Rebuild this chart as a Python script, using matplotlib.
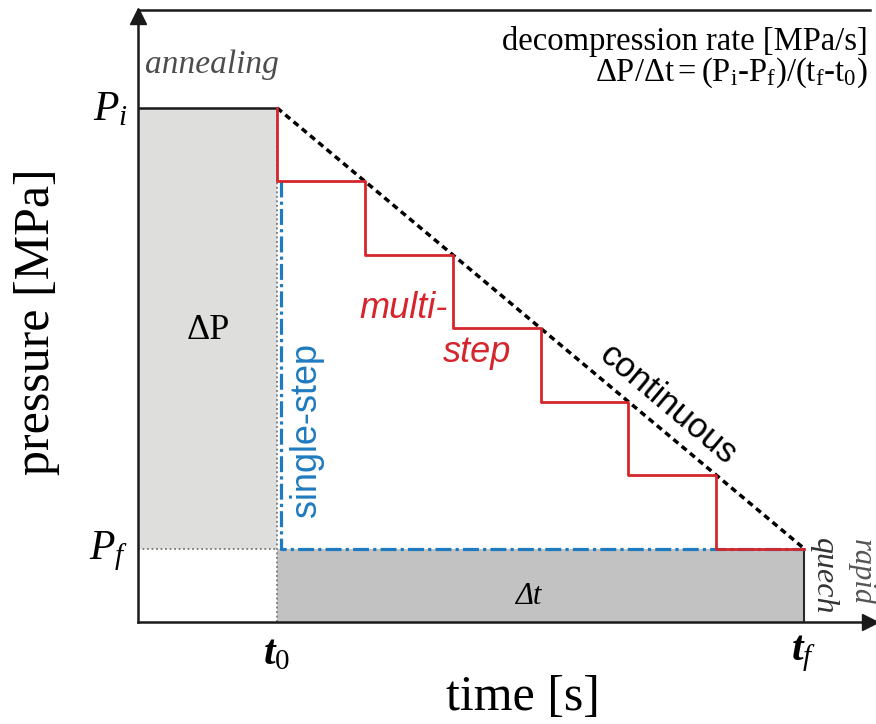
import numpy as np
import matplotlib
matplotlib.use('Agg')
import matplotlib.pyplot as plt
from matplotlib.patches import Rectangle

plt.rcParams['mathtext.fontset'] = 'custom'
plt.rcParams['mathtext.rm'] = 'Liberation Serif'
plt.rcParams['mathtext.it'] = 'Liberation Serif:italic'
plt.rcParams['mathtext.bf'] = 'Liberation Serif:bold:italic'

# schematic values (arbitrary units)
t0, tf = 1.9, 9.1
p_i, p_f = 8.4, 1.2
step_t = [1.9, 3.1, 4.3, 5.5, 6.7, 7.9, 9.1]
step_p = [8.4, 7.2, 6.0, 4.8, 3.6, 2.4, 1.2]

SERIF = 'Liberation Serif'
SANS = 'Liberation Sans'
RED = '#d4262c'
BLUE = '#1f7bbf'

fig = plt.figure(figsize=(8.76, 7.24), dpi=100)
ax = fig.add_axes([138/876, 102/724, 732/876, 612/724])
ax.set_xlim(0, 10)
ax.set_ylim(0, 10)
ax.set_xticks([])
ax.set_yticks([])
for s in ['left', 'bottom', 'top']:
    ax.spines[s].set_linewidth(1.8)
    ax.spines[s].set_color('#1a1a1a')
ax.spines['right'].set_visible(False)

# arrow heads
ax.plot(1, 0, '>', color='#1a1a1a', ms=12, transform=ax.transAxes, clip_on=False)
ax.plot(0, 0.99, '^', color='#1a1a1a', ms=12, transform=ax.transAxes, clip_on=False)

# shaded boxes
ax.add_patch(Rectangle((0, p_f), t0, p_i - p_f, facecolor='#dededc', edgecolor='none', zorder=1))
ax.add_patch(Rectangle((t0, 0), tf - t0, p_f, facecolor='#c2c2c2', edgecolor='none', zorder=1))
ax.plot([0, t0], [p_i, p_i], color='#1a1a1a', lw=1.8, zorder=3)
ax.plot([tf, tf], [0, p_f], color='#2a2a2a', lw=1.5, zorder=3)
ax.plot([0, t0], [p_f, p_f], color='#777777', lw=1.3, ls=(0, (1, 1.5)), zorder=2)
ax.plot([t0, t0], [0, p_i], color='#777777', lw=1.3, ls=(0, (1, 1.5)), zorder=2)

# single-step
ax.plot([t0 + 0.05, t0 + 0.05, tf], [step_p[1], p_f, p_f], color=BLUE, lw=2.3,
        ls=(0, (5, 1.3, 1, 1.3)), zorder=4)

# continuous
ax.plot([t0, tf], [p_i, p_f], color='black', lw=2.5, ls=(0, (1.8, 1.3)), zorder=5)

# multi-step
xs = np.repeat(step_t, 2)[:-1]
ys = np.repeat(step_p, 2)[1:]
ax.plot(xs, ys, color=RED, lw=2.0, zorder=6)

# labels
ax.text(0.1, 9.1, 'annealing', family=SERIF, style='italic', fontsize=24,
        color='#4d4d4d', ha='left', va='center')
ax.text(9.97, 9.48, 'decompression rate [MPa/s]', family=SERIF, fontsize=23.5,
        ha='right', va='center')
ax.text(9.97, 8.97, r'$\Delta\mathrm{P/}\Delta\mathrm{t = (P_i\text{-}P_f)/(t_f\text{-}t_0)}$',
        fontsize=23.5, ha='right', va='center')
ax.text(-0.14, p_i, r'$P_i$', fontsize=30, ha='right', va='center')
ax.text(-0.14, p_f - 0.05, r'$P_f$', fontsize=30, ha='right', va='center')
ax.text(t0, -0.5, r'$\mathbf{t}_\mathit{0}$', fontsize=30, ha='center', va='center')
ax.text(tf, -0.5, r'$\mathbf{t}_\mathit{f}$', fontsize=30, ha='center', va='center')
ax.text(-1.38, 4.9, 'pressure [MPa]', family=SERIF, fontsize=36, rotation=90,
        ha='center', va='center')
ax.text(5.26, -1.23, 'time [s]', family=SERIF, fontsize=36, ha='center', va='center')
ax.text(0.96, 4.77, 'ΔP', family=SERIF, fontsize=26, ha='center', va='center')
ax.text(5.33, 0.41, 'Δt', family=SERIF, style='italic', fontsize=22, ha='center', va='center')
ax.text(3.63, 5.13, 'multi-', family=SANS, style='italic', fontsize=26, color=RED,
        ha='center', va='center')
ax.text(4.63, 4.41, 'step', family=SANS, style='italic', fontsize=26, color=RED,
        ha='center', va='center')
ax.text(2.30, 3.14, 'single-step', family=SANS, fontsize=26, color=BLUE, rotation=90,
        ha='center', va='center')
ax.text(7.24, 3.55, 'continuous', family=SANS, fontsize=25, rotation=-40,
        rotation_mode='anchor', ha='center', va='center')
ax.text(9.88, 0.82, 'rapid', family=SERIF, style='italic', fontsize=22, color='#555555',
        rotation=-90, ha='center', va='center')
ax.text(9.37, 0.74, 'quech', family=SERIF, style='italic', fontsize=23, color='#333333',
        rotation=-90, ha='center', va='center')

plt.savefig('out.png', dpi=100)
